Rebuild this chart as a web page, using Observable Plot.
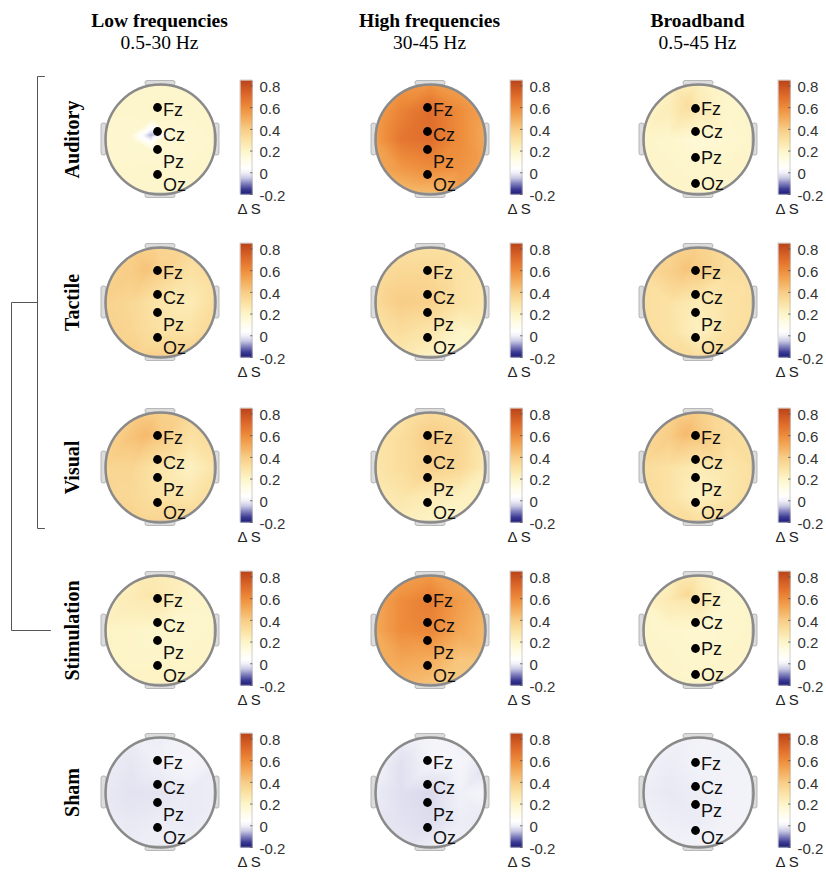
<!DOCTYPE html>
<html><head><meta charset="utf-8">
<script src="https://cdn.jsdelivr.net/npm/d3@7"></script>
<script src="https://cdn.jsdelivr.net/npm/@observablehq/plot@0.6"></script>
<style>html,body{margin:0;padding:0;background:#fff}</style>
</head><body><div id="chart"></div>
<script>
// ---------- data ----------
const rowNames = ["Auditory", "Tactile", "Visual", "Stimulation", "Sham"];
const colTitles = ["Low frequencies", "High frequencies", "Broadband"];
const colBands = ["0.5-30 Hz", "30-45 Hz", "0.5-45 Hz"];
const electrodes = ["Fz", "Cz", "Pz", "Oz"];
const colorTicks = [0.8, 0.6, 0.4, 0.2, 0, -0.2];
const colorbarDomain = [-0.2, 0.85];
const colorbarLabel = "Δ S";
const gridPos = [-1, -0.5, 0, 0.5, 1]; // grid rows top→bottom, columns left→right

const colorStops = [-0.2, -0.15, -0.1, -0.05, 0, 0.04, 0.12, 0.2, 0.3, 0.4, 0.5, 0.6, 0.7, 0.8, 0.85];
const colorRamp = ["#1c1a74", "#3d3c95", "#7f7fbd", "#c8c8e4", "#f1f1f8", "#ffffff", "#fffce6", "#fdf5c9",
  "#fbe2a4", "#f8cd86", "#f4ad5c", "#ee8d3c", "#e06e2c", "#c9521f", "#b8441a"];

// scalp maps, ΔS values on a 5×5 grid (top row = frontal)
const auditoryLow = [
  [0.19, 0.19, 0.19, 0.19, 0.19],
  [0.19, 0.19, 0.2, 0.19, 0.19],
  [0.19, 0.18, 0.17, 0.18, 0.19],
  [0.19, 0.19, 0.19, 0.19, 0.19],
  [0.19, 0.19, 0.19, 0.19, 0.19]];
const auditoryHigh = [
  [0.5, 0.55, 0.56, 0.52, 0.5],
  [0.52, 0.63, 0.7, 0.6, 0.52],
  [0.53, 0.67, 0.7, 0.6, 0.5],
  [0.5, 0.56, 0.6, 0.58, 0.52],
  [0.46, 0.42, 0.43, 0.52, 0.5]];
const auditoryBroad = [
  [0.2, 0.21, 0.23, 0.2, 0.2],
  [0.2, 0.24, 0.26, 0.19, 0.2],
  [0.2, 0.19, 0.16, 0.18, 0.2],
  [0.2, 0.2, 0.19, 0.2, 0.2],
  [0.2, 0.2, 0.2, 0.2, 0.2]];
const tactileLow = [
  [0.38, 0.38, 0.36, 0.35, 0.36],
  [0.37, 0.4, 0.38, 0.3, 0.34],
  [0.38, 0.35, 0.28, 0.25, 0.33],
  [0.38, 0.36, 0.3, 0.3, 0.36],
  [0.4, 0.4, 0.4, 0.4, 0.4]];
const tactileHigh = [
  [0.28, 0.3, 0.3, 0.3, 0.28],
  [0.32, 0.35, 0.35, 0.3, 0.28],
  [0.33, 0.4, 0.38, 0.3, 0.27],
  [0.3, 0.32, 0.28, 0.2, 0.22],
  [0.28, 0.25, 0.2, 0.17, 0.22]];
const tactileBroad = [
  [0.32, 0.35, 0.37, 0.32, 0.32],
  [0.32, 0.38, 0.4, 0.32, 0.32],
  [0.32, 0.3, 0.25, 0.3, 0.32],
  [0.33, 0.3, 0.22, 0.3, 0.33],
  [0.35, 0.33, 0.33, 0.33, 0.35]];
const visualLow = [
  [0.36, 0.38, 0.38, 0.35, 0.36],
  [0.36, 0.43, 0.41, 0.3, 0.34],
  [0.36, 0.36, 0.28, 0.22, 0.3],
  [0.36, 0.35, 0.3, 0.28, 0.34],
  [0.38, 0.38, 0.38, 0.38, 0.38]];
const visualHigh = [
  [0.25, 0.28, 0.32, 0.3, 0.25],
  [0.28, 0.32, 0.4, 0.36, 0.25],
  [0.28, 0.32, 0.38, 0.35, 0.24],
  [0.25, 0.28, 0.25, 0.22, 0.22],
  [0.22, 0.22, 0.2, 0.2, 0.22]];
const visualBroad = [
  [0.33, 0.36, 0.39, 0.33, 0.33],
  [0.33, 0.4, 0.42, 0.32, 0.32],
  [0.33, 0.3, 0.25, 0.28, 0.32],
  [0.34, 0.3, 0.22, 0.28, 0.33],
  [0.35, 0.33, 0.33, 0.33, 0.35]];
const stimulationLow = [
  [0.22, 0.23, 0.25, 0.22, 0.21],
  [0.21, 0.25, 0.26, 0.2, 0.2],
  [0.21, 0.2, 0.19, 0.19, 0.2],
  [0.21, 0.2, 0.2, 0.2, 0.21],
  [0.22, 0.22, 0.22, 0.22, 0.22]];
const stimulationHigh = [
  [0.48, 0.52, 0.55, 0.5, 0.45],
  [0.5, 0.6, 0.65, 0.55, 0.48],
  [0.5, 0.6, 0.62, 0.52, 0.45],
  [0.48, 0.52, 0.5, 0.42, 0.42],
  [0.45, 0.45, 0.42, 0.4, 0.42]];
const stimulationBroad = [
  [0.2, 0.22, 0.24, 0.2, 0.2],
  [0.2, 0.26, 0.28, 0.19, 0.2],
  [0.2, 0.19, 0.18, 0.19, 0.2],
  [0.2, 0.2, 0.19, 0.2, 0.2],
  [0.2, 0.2, 0.2, 0.2, 0.2]];
const shamLow = [
  [0.002, -0.005, -0.005, 0.005, 0.002],
  [-0.005, -0.012, 0, 0.012, -0.005],
  [-0.008, -0.018, -0.015, -0.008, -0.005],
  [-0.005, -0.01, -0.005, -0.008, 0],
  [0.002, -0.005, -0.005, 0, 0.002]];
const shamHigh = [
  [-0.01, 0, 0.01, -0.005, -0.012],
  [0.008, -0.02, 0.005, 0.01, -0.022],
  [-0.005, -0.022, -0.028, 0, 0.008],
  [-0.012, -0.018, -0.024, -0.005, -0.01],
  [0, -0.01, 0, 0, -0.005]];
const shamBroad = [
  [0.004, 0.002, 0.002, 0.004, 0.004],
  [0.002, -0.006, 0.002, 0.004, 0.002],
  [-0.004, -0.01, -0.004, 0.002, 0.004],
  [0.002, -0.004, -0.006, 0.002, 0.004],
  [0.004, 0.004, 0.004, 0.004, 0.004]];

// local features [x, y (front = +), ΔS]
const auditoryLowSpots = [[-0.18, 0.08, -0.07], [-0.04, 0.08, -0.05], [-0.55, 0.08, 0.18], [0.2, 0.08, 0.17], [-0.15, 0.38, 0.19], [-0.15, -0.22, 0.18]];
const auditoryBroadSpots = [[-0.2, 0.62, 0.32]];
const tactileLowSpots = [[-0.25, 0.6, 0.43]];
const tactileBroadSpots = [[-0.22, 0.62, 0.43]];
const visualLowSpots = [[-0.25, 0.6, 0.46]];
const visualBroadSpots = [[-0.22, 0.62, 0.46]];
const stimulationLowSpots = [[-0.2, 0.65, 0.28]];
const stimulationBroadSpots = [[-0.2, 0.65, 0.34]];

const maps = [
  [auditoryLow, auditoryHigh, auditoryBroad],
  [tactileLow, tactileHigh, tactileBroad],
  [visualLow, visualHigh, visualBroad],
  [stimulationLow, stimulationHigh, stimulationBroad],
  [shamLow, shamHigh, shamBroad]];
const spots = [
  [auditoryLowSpots, [], auditoryBroadSpots],
  [tactileLowSpots, [], tactileBroadSpots],
  [visualLowSpots, [], visualBroadSpots],
  [stimulationLowSpots, [], stimulationBroadSpots],
  [[], [], []]];

// clustering bracket of conditions
const clusterInner = ["Auditory", "Visual"];     // spans Auditory..Visual
const clusterOuter = ["Tactile", "Stimulation"]; // joins the group to Stimulation

// ---------- layout ----------
const W = 826, H = 872;
const colX = [160, 430, 698];
const rowY = [139, 302, 467, 630, 792];
const R = 55;
const electrodeLayouts = {
  A: {dot: [-32, -8, 10, 35], lab: [3, 4, 13, 11]},
  B: {dot: [-31, -8, 18, 44], lab: [1, 1, 1, 1]},
  C: {dot: [-30, -6, 12, 38], lab: [2, 2, 7, 8]}
};
const layoutOf = [["A", "A", "B"], ["A", "A", "A"], ["A", "A", "A"], ["A", "A", "B"], ["A", "A", "C"]];

const pxPerUnit = 114 / (colorbarDomain[1] - colorbarDomain[0]);
const barY = (cy, v) => cy + 55 - (v - colorbarDomain[0]) * pxPerUnit;

const sans = "Liberation Sans, Arial, Helvetica, sans-serif";
const serif = "Liberation Serif, Times New Roman, serif";

const rasters = [], masks = [], heads = [], overlays = [];

rowNames.forEach((rn, r) => {
  colTitles.forEach((ct, c) => {
    const cx = colX[c], cy = rowY[r];
    const g = maps[r][c];
    const pts = [];
    g.forEach((row, i) => row.forEach((v, j) => pts.push({x: cx + gridPos[j] * (R + 4), y: cy + gridPos[i] * (R + 4), v})));
    spots[r][c].forEach(([sx, sy, v]) => pts.push({x: cx + sx * R, y: cy - sy * R, v}));
    rasters.push(Plot.raster(pts, {
      x: "x", y: "y", fill: "v", interpolate: "barycentric",
      x1: cx - R - 3, x2: cx + R + 3, y1: cy - R - 3, y2: cy + R + 3, pixelSize: 1
    }));
    masks.push(Plot.dot([{x: cx, y: cy}], {x: "x", y: "y", r: R + 15, stroke: "white", strokeWidth: 30, fill: "none"}));

    // ears and nose
    heads.push(Plot.rect([{x1: cx - R - 4, x2: cx - R + 1, y1: cy - 16, y2: cy + 16}, {x1: cx + R - 1, x2: cx + R + 4, y1: cy - 16, y2: cy + 16},
      {x1: cx - 15, x2: cx + 15, y1: cy - R - 3.5, y2: cy - R + 1}, {x1: cx - 15, x2: cx + 15, y1: cy + R - 1, y2: cy + R + 3.5}],
      {x1: "x1", x2: "x2", y1: "y1", y2: "y2", fill: "#dcdcdc", stroke: "#a8a8a8", strokeWidth: 0.8, rx: 2}));
    heads.push(Plot.dot([{x: cx, y: cy}], {x: "x", y: "y", r: R, stroke: "#8a8a8a", strokeWidth: 2.5, fill: "none"}));

    // electrodes
    const lay = electrodeLayouts[layoutOf[r][c]];
    const el = electrodes.map((e, k) => ({name: e, x: cx - 3, y: cy + lay.dot[k], ly: cy + lay.dot[k] + lay.lab[k]}));
    overlays.push(Plot.dot(el, {x: "x", y: "y", r: 4.4, fill: "#000", stroke: "none"}));
    overlays.push(Plot.text(el, {x: d => d.x + 5.5, y: "ly", text: "name", textAnchor: "start", fontSize: 18, fontFamily: sans, fill: "#111"}));

    // colorbar
    const top = barY(cy, colorbarDomain[1]), bot = barY(cy, colorbarDomain[0]);
    overlays.push(Plot.raster({
      x1: cx + 80, x2: cx + 92, y1: top, y2: bot, pixelSize: 1,
      fill: (x, y) => colorbarDomain[0] + (cy + 55 - y) / pxPerUnit
    }));
    overlays.push(Plot.rect([{x1: cx + 80, x2: cx + 92, y1: top, y2: bot}], {x1: "x1", x2: "x2", y1: "y1", y2: "y2", fill: "none", stroke: "#a0a0a0", strokeWidth: 0.5}));
    overlays.push(Plot.link(colorTicks, {x1: cx + 89.5, x2: cx + 92, y1: t => barY(cy, t), y2: t => barY(cy, t), stroke: "#555", strokeWidth: 0.8}));
    overlays.push(Plot.text(colorTicks, {x: cx + 99, y: t => barY(cy, t) + 1.5, text: t => String(t), textAnchor: "start", fontSize: 15, fontFamily: sans, fill: "#333"}));
    overlays.push(Plot.text([colorbarLabel], {x: cx + 77, y: cy + 70, text: d => d, textAnchor: "start", fontSize: 15, fontFamily: sans, fill: "#222"}));
  });
});

// titles and row labels
const titleData = colTitles.map((t, c) => ({t, b: colBands[c], x: colX[c] - 1}));
const rowData = rowNames.map((n, r) => ({n, y: rowY[r]}));

// cluster bracket
const iA = rowNames.indexOf(clusterInner[0]), iV = rowNames.indexOf(clusterInner[1]);
const iT = rowNames.indexOf(clusterOuter[0]), iS = rowNames.indexOf(clusterOuter[1]);
const xIn = 37, xOut = 11;
const bracketInner = [{x: xIn + 7, y: rowY[iA] - 63}, {x: xIn, y: rowY[iA] - 63}, {x: xIn, y: rowY[iV] + 61}, {x: xIn + 7, y: rowY[iV] + 61}];
const bracketOuter = [{x: xIn, y: rowY[iT]}, {x: xOut, y: rowY[iT]}, {x: xOut, y: rowY[iS]}, {x: xOut + 39, y: rowY[iS]}];

const chart = Plot.plot({
  width: W, height: H,
  margin: 0,
  x: {domain: [0, W], range: [0, W], axis: null},
  y: {domain: [0, H], range: [0, H], axis: null},
  color: {type: "linear", domain: colorStops, range: colorRamp, clamp: true},
  style: {background: "#fff"},
  marks: [
    ...rasters,
    ...masks,
    ...heads,
    ...overlays,
    Plot.line(bracketInner, {x: "x", y: "y", stroke: "#555", strokeWidth: 1}),
    Plot.line(bracketOuter, {x: "x", y: "y", stroke: "#555", strokeWidth: 1}),
    Plot.text(titleData, {x: "x", y: 20, text: "t", fontSize: 19.5, fontWeight: "bold", fontFamily: serif, fill: "#000"}),
    Plot.text(titleData, {x: "x", y: 42, text: "b", fontSize: 19.5, fontFamily: serif, fill: "#000"}),
    Plot.text(rowData, {x: 72, y: "y", text: "n", rotate: -90, fontSize: 20, fontWeight: "bold", fontFamily: serif, fill: "#000"})
  ]
});
document.getElementById("chart").appendChild(chart);
</script>
</body></html>
